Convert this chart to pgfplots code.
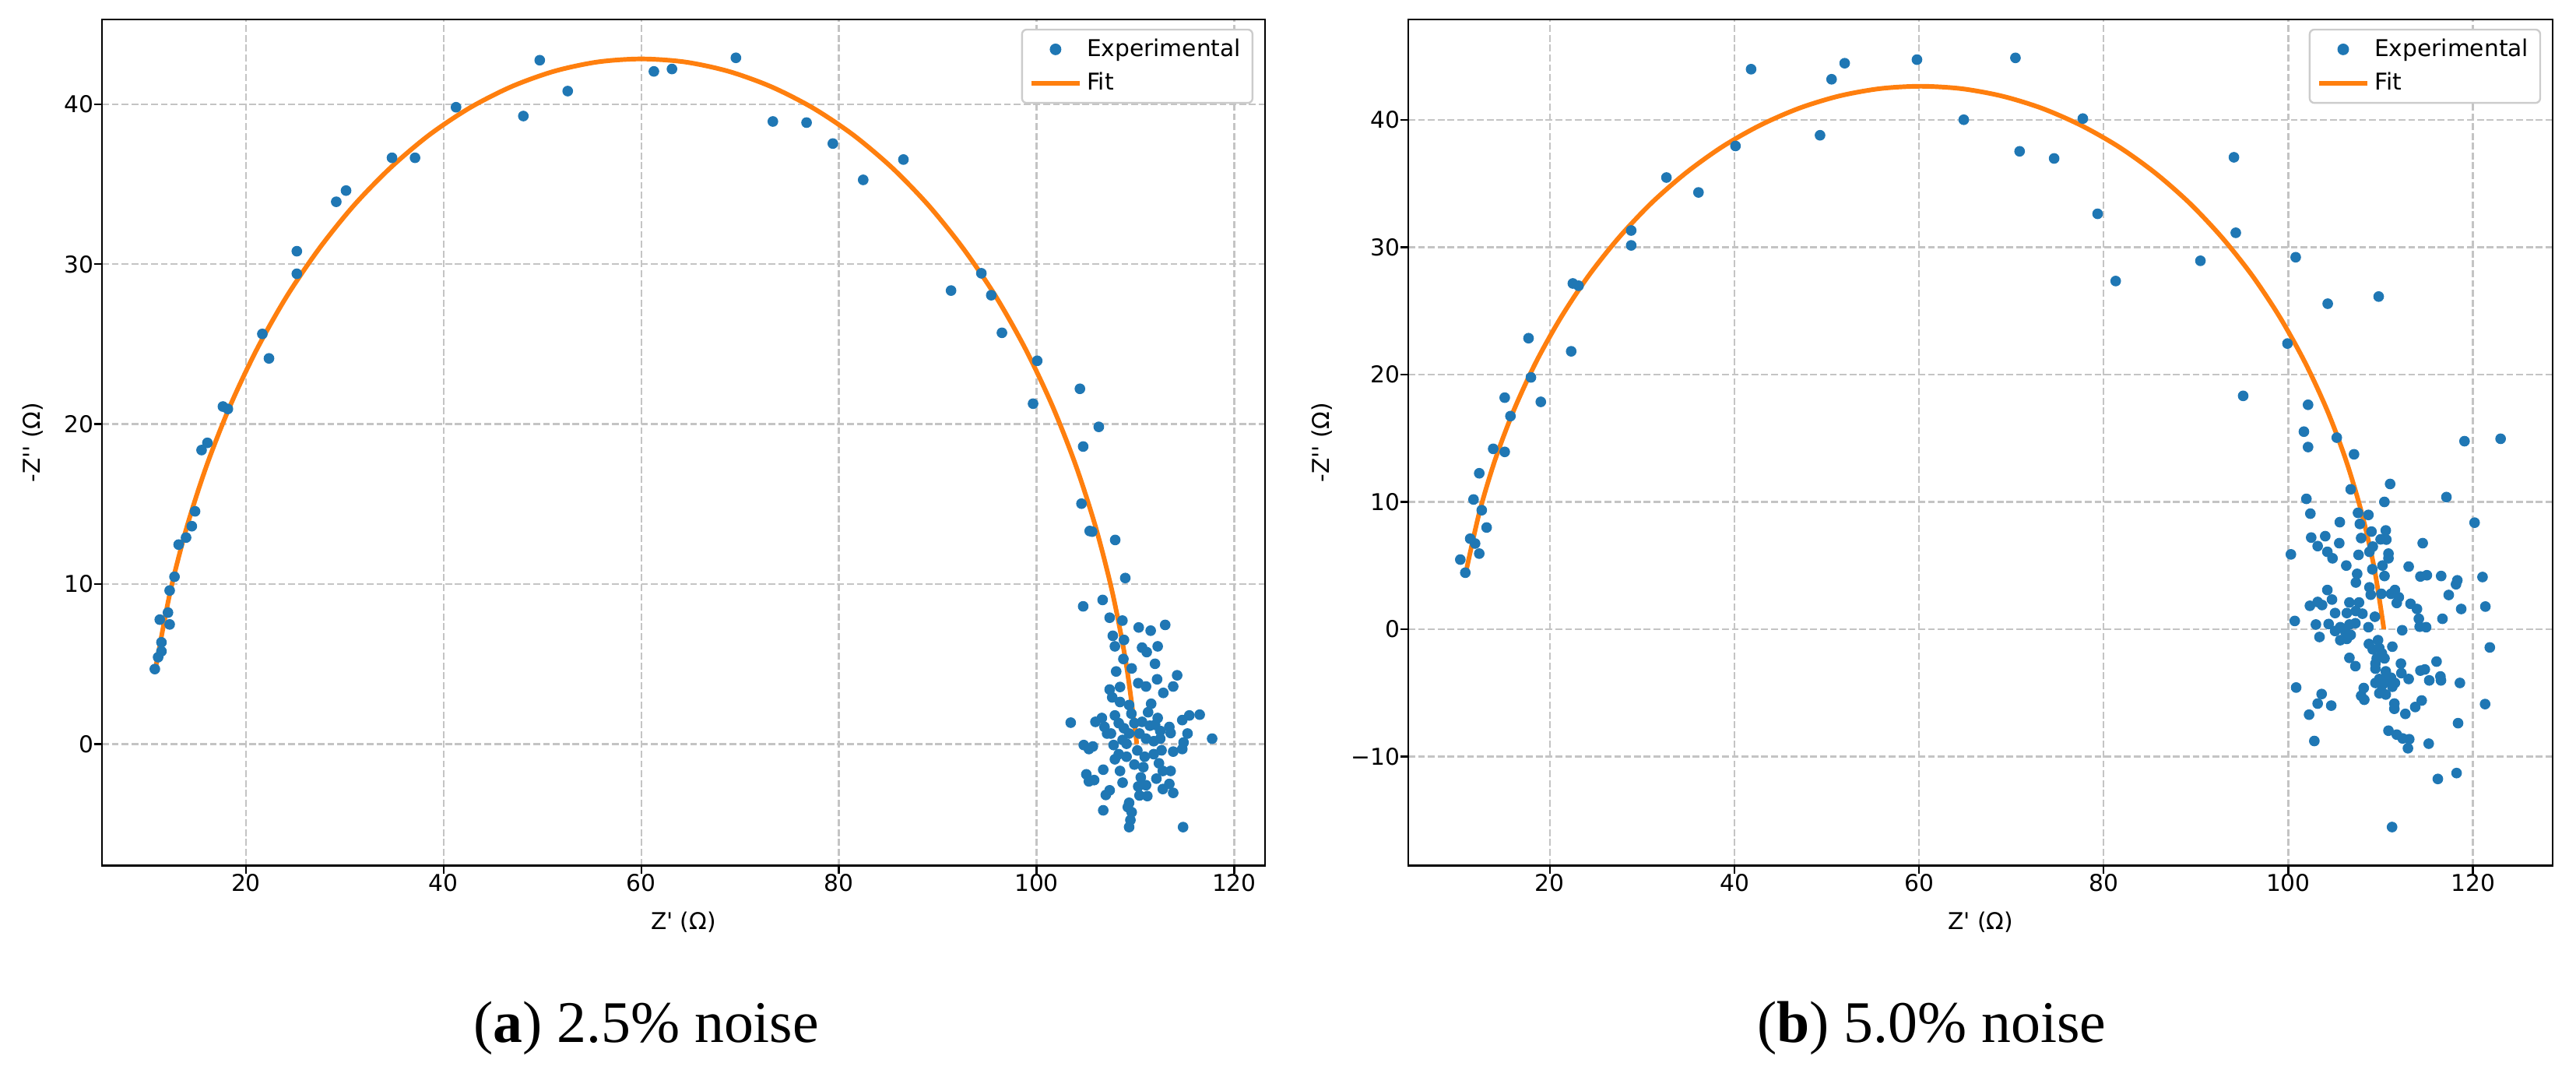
\documentclass[border=0pt]{standalone}
\usepackage{fontspec}
\usepackage{pgfplots}
\pgfplotsset{compat=1.18}
\setmainfont{Liberation Serif}
\newfontfamily\dejavu{DejaVu Sans}[Ligatures=TeXOff]
\definecolor{mplblue}{HTML}{1F77B4}
\definecolor{mplorange}{HTML}{FF7F0E}
\definecolor{gridgray}{HTML}{C4C4C4}
\definecolor{legedge}{HTML}{CCCCCC}
\newcommand{\tfont}{\dejavu\fontsize{10}{12}\selectfont}
\pgfplotsset{
  mpl/.style={
    scale only axis,
    height=365.8pt,
    axis line style={line width=0.8pt},
    tick pos=left,
    tick align=outside,
    major tick length=3.5pt,
    every tick/.style={black, line width=0.8pt},
    grid=major,
    major grid style={line width=0.8pt, draw=gridgray, dash pattern=on 2.96pt off 1.28pt},
    tick label style={font=\tfont},
    xticklabel style={anchor=north, inner sep=0pt},
    yticklabel style={anchor=east, inner sep=0pt},
    xtick={20,40,60,80,100,120},
    xticklabels={20,40,60,80,100,120},
    xlabel={Z\textquotesingle{} (Ω)},
    ylabel={-Z\textquotesingle\textquotesingle{} (Ω)},
    xlabel style={font=\tfont, anchor=center},
    ylabel style={font=\tfont, anchor=center, rotate=0},
    legend cell align=left,
    legend style={at={(1,1)}, anchor=north east, xshift=-5pt, yshift=-4pt,
      draw=legedge, line width=0.8pt, rounded corners=2pt, fill=white,
      font=\tfont, inner xsep=3pt, inner ysep=2pt, row sep=1.5pt},
  },
  expt/.style={only marks, mark=*, mark size=2.1pt, color=mplblue, mark options={draw=none, fill=mplblue},
    legend image code/.code={\draw[mark repeat=2,mark phase=2,##1] plot coordinates {(0pt,0pt) (10.5pt,0pt) (21pt,0pt)};}},
  fitline/.style={no marks, smooth, color=mplorange, line width=2pt, line join=round,
    legend image code/.code={\draw[##1,sharp plot] (0pt,0pt) -- (21pt,0pt);}},
}

\pgfplotstableread{
x y
10.78 4.69
11.11 5.43
11.45 5.80
11.45 6.36
11.28 7.78
12.28 7.48
12.11 8.22
12.28 9.60
12.77 10.46
13.19 12.47
13.94 12.91
14.52 13.62
14.85 14.55
15.51 18.38
16.10 18.83
17.67 21.10
18.17 20.95
21.66 25.64
22.33 24.11
25.15 29.40
25.15 30.81
29.14 33.90
30.13 34.60
34.78 36.65
37.11 36.65
41.26 39.81
48.07 39.26
49.73 42.75
52.56 40.82
61.28 42.05
63.11 42.20
69.58 42.90
73.32 38.92
76.73 38.85
79.39 37.54
82.46 35.27
86.53 36.54
91.35 28.35
94.42 29.43
95.42 28.06
96.50 25.71
100.07 23.96
99.65 21.28
104.39 22.21
104.72 18.60
106.30 19.83
104.55 15.03
105.38 13.32
105.63 13.28
107.96 12.76
108.98 10.38
104.72 8.61
106.69 9.01
107.40 7.90
108.69 7.72
110.34 7.29
111.55 7.09
113.02 7.45
107.72 6.77
108.85 6.51
107.93 6.11
110.68 6.03
111.15 5.75
112.26 6.11
108.79 5.32
111.99 5.02
109.63 4.73
108.06 4.54
114.23 4.30
112.20 4.05
113.83 3.60
110.29 3.81
111.08 3.60
107.40 3.41
108.45 3.57
112.83 3.20
107.66 2.92
108.45 2.63
109.37 2.44
111.60 2.52
111.29 1.99
103.46 1.34
105.96 1.39
106.61 1.63
107.93 1.79
106.88 1.07
114.75 1.50
115.46 1.79
116.51 1.84
117.77 0.34
115.28 0.66
112.26 1.63
113.44 1.07
107.53 0.66
108.85 0.99
110.68 1.39
111.47 1.15
112.52 0.82
113.57 0.69
104.78 -0.06
105.70 -0.15
105.30 -0.31
107.80 -0.06
108.71 0.26
109.37 0.66
111.08 0.34
111.86 0.18
112.65 -0.39
113.83 -0.47
114.75 -0.31
114.88 0.10
107.93 -0.95
109.11 -0.79
109.90 -1.28
110.94 -0.79
111.86 -0.63
110.81 -1.44
112.39 -1.20
113.57 -1.68
112.78 -1.68
108.45 -1.68
106.75 -1.60
105.04 -1.89
105.83 -2.25
105.30 -2.33
108.71 -2.41
110.55 -2.08
112.13 -2.16
113.44 -2.49
110.29 -2.65
111.08 -2.57
112.78 -2.81
113.83 -3.05
107.40 -2.89
107.01 -3.18
110.42 -3.21
111.21 -3.25
106.75 -4.14
109.37 -3.67
109.63 -4.26
109.50 -4.75
109.37 -5.19
114.83 -5.19
109.24 -3.94
108.32 1.31
109.90 1.31
110.42 0.66
109.11 0.02
108.32 -0.63
110.20 -0.40
112.52 0.34
107.14 0.66
109.60 1.90
112.00 1.20
}\expA

\pgfplotstableread{
x y
10.84 4.68
12.31 9.44
14.00 13.53
16.05 17.46
18.43 21.19
21.12 24.70
24.11 27.97
27.38 30.95
30.89 33.65
34.63 36.03
38.55 38.08
42.64 39.77
46.87 41.10
51.19 42.06
55.58 42.64
60.00 42.83
64.42 42.64
68.81 42.06
73.13 41.10
77.36 39.77
81.45 38.08
85.38 36.03
89.11 33.65
92.62 30.95
95.89 27.97
98.88 24.70
101.57 21.19
103.95 17.46
106.00 13.53
107.69 9.44
109.02 5.21
109.98 0.89
110.13 0.00
}\fitA

\pgfplotstableread{
x y
10.30 5.47
10.84 4.44
11.37 7.11
11.90 6.73
11.73 10.19
12.35 5.94
12.62 9.35
12.35 12.25
13.15 7.99
13.86 14.17
15.11 13.93
15.11 18.19
15.73 16.74
17.69 22.86
17.95 19.78
19.02 17.86
22.31 21.83
22.49 27.16
23.11 26.98
28.81 31.32
28.81 30.15
32.63 35.48
36.10 34.31
40.11 37.96
41.80 43.99
49.27 38.80
50.52 43.20
51.94 44.46
59.77 44.74
64.84 40.02
70.44 44.88
70.89 37.54
74.63 36.98
77.74 40.11
79.34 32.63
81.30 27.35
90.48 28.94
94.11 37.07
94.31 31.14
95.11 18.33
99.91 22.44
100.80 29.22
104.27 25.57
109.79 26.13
102.14 17.63
101.69 15.52
102.14 14.31
105.25 15.05
107.12 13.74
111.03 11.41
110.41 10.00
106.76 10.99
101.96 10.24
117.13 10.38
119.09 14.77
123.00 14.96
120.18 8.37
102.39 9.08
107.55 9.14
108.68 8.98
105.58 8.41
107.75 8.27
109.01 7.67
110.56 7.76
102.48 7.20
104.00 7.31
107.89 7.16
110.00 7.06
110.62 7.04
105.52 6.76
103.18 6.53
114.56 6.76
109.15 6.49
104.23 6.08
100.28 5.88
104.79 5.57
107.61 5.84
108.79 6.08
110.85 5.94
110.85 5.57
106.28 5.00
110.20 5.00
109.10 4.71
113.04 4.92
110.42 4.18
107.46 4.35
107.32 3.67
114.31 4.14
115.01 4.24
116.56 4.18
118.31 3.84
118.17 3.53
121.04 4.10
104.23 3.08
108.79 3.29
108.93 2.71
110.08 2.78
111.55 3.08
111.13 2.78
111.97 2.51
111.75 2.06
117.38 2.69
104.73 2.33
102.34 1.84
103.18 2.14
103.66 1.90
106.62 2.10
107.66 2.10
113.24 2.00
113.94 1.59
118.73 1.59
121.35 1.78
105.07 1.27
106.34 1.27
107.32 1.43
108.03 1.22
109.38 0.98
100.70 0.65
102.99 0.37
104.37 0.41
114.14 0.82
116.70 0.82
114.23 0.20
114.93 0.16
108.68 0.16
112.34 -0.08
105.63 0.16
106.62 0.37
107.27 0.47
105.07 -0.14
106.20 -0.24
106.76 -0.45
103.38 -0.61
105.63 -0.86
106.34 -0.76
108.73 -1.16
109.72 -0.86
111.27 -1.37
121.83 -1.43
109.15 -1.58
109.86 -1.48
110.14 -1.89
109.58 -2.29
110.42 -2.29
106.62 -2.25
107.27 -2.90
109.44 -3.10
110.56 -3.31
112.20 -2.70
116.06 -2.54
112.25 -3.45
113.04 -3.91
114.31 -3.25
114.79 -3.16
115.27 -4.02
116.48 -3.71
116.54 -4.02
118.59 -4.22
100.85 -4.58
109.44 -4.22
110.14 -4.42
110.85 -4.12
111.55 -4.22
111.13 -3.81
108.17 -4.62
109.86 -5.03
110.56 -5.13
107.89 -5.23
108.23 -5.54
103.61 -5.09
103.18 -5.84
104.65 -6.00
102.25 -6.71
111.49 -5.84
111.49 -6.25
112.68 -6.65
113.75 -6.11
114.45 -5.60
121.32 -5.88
118.39 -7.38
102.82 -8.78
110.85 -7.97
111.75 -8.28
112.39 -8.58
113.10 -8.64
112.96 -9.35
115.21 -8.99
116.20 -11.76
118.23 -11.30
111.24 -15.54
110.70 -3.71
109.86 -3.91
111.27 -4.52
109.44 -2.70
}\expB

\pgfplotstableread{
x y
10.93 4.56
12.37 9.19
14.06 13.29
16.11 17.23
18.49 20.97
21.20 24.49
24.19 27.76
27.46 30.75
30.98 33.46
34.73 35.84
38.66 37.89
42.76 39.58
46.99 40.92
51.32 41.88
55.72 42.46
60.15 42.65
64.58 42.46
68.98 41.88
73.31 40.92
77.54 39.58
81.64 37.89
85.58 35.84
89.32 33.46
92.84 30.75
96.11 27.76
99.10 24.49
101.80 20.97
104.19 17.23
106.24 13.29
107.93 9.19
109.27 4.96
110.23 0.63
110.33 0.00
}\fitB

\begin{document}
\begin{tikzpicture}
\path[use as bounding box] (0,0) rectangle (1114.1pt,462.6pt);
\begin{axis}[mpl, at={(44.1pt,88.4pt)}, anchor=south west, width=503.0pt,
  xmin=5.43, xmax=123.12, ymin=-7.59, ymax=45.30,
  ytick={0,10,20,30,40}, yticklabels={0,10,20,30,40},
  xlabel style={at={(axis description cs:0.5,-0.0667)}},
  ylabel style={at={(axis description cs:-0.0592,0.5)}},
]
\addplot[expt] table[x=x,y=y] {\expA};
\addlegendentry{Experimental}
\addplot[fitline] table[x=x,y=y] {\fitA};
\addlegendentry{Fit}
\end{axis}
\begin{axis}[mpl, at={(609.1pt,88.4pt)}, anchor=south west, width=494.9pt,
  xmin=4.67, xmax=128.64, ymin=-18.56, ymax=47.90,
  ytick={-10,0,10,20,30,40}, yticklabels={−10,0,10,20,30,40},
  xlabel style={at={(axis description cs:0.5,-0.0667)}},
  ylabel style={at={(axis description cs:-0.0752,0.5)}},
]
\addplot[expt] table[x=x,y=y] {\expB};
\addlegendentry{Experimental}
\addplot[fitline] table[x=x,y=y] {\fitB};
\addlegendentry{Fit}
\end{axis}
\node[anchor=base, font=\fontsize{25.5}{30}\selectfont, inner sep=0pt] at (279.5pt,11.8pt) {(\textbf{a}) 2.5\% noise};
\node[anchor=base, font=\fontsize{25.5}{30}\selectfont, inner sep=0pt] at (835.4pt,11.8pt) {(\textbf{b}) 5.0\% noise};
\end{tikzpicture}
\end{document}
